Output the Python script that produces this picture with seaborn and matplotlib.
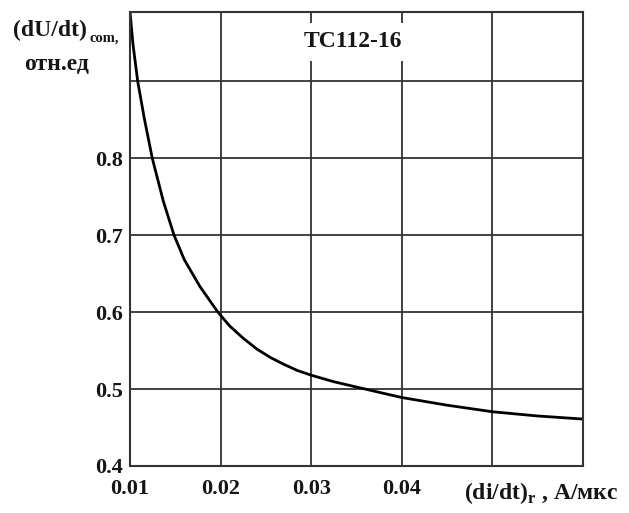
import numpy as np
import pandas as pd
import matplotlib
matplotlib.use("Agg")
import matplotlib.pyplot as plt
import seaborn as sns

# values
di_dt = [0.0100, 0.01033, 0.01085, 0.01158, 0.01246, 0.01368, 0.01486, 0.0160,
         0.01773, 0.0197, 0.0210, 0.0225, 0.0240, 0.0255, 0.0270, 0.0285,
         0.0300, 0.0325, 0.0380, 0.0400, 0.0450, 0.0500, 0.0550, 0.0600]
du_dt = [0.990, 0.948, 0.900, 0.8516, 0.800, 0.744, 0.700, 0.668,
         0.633, 0.600, 0.582, 0.566, 0.552, 0.541, 0.532, 0.524,
         0.518, 0.5095, 0.4944, 0.489, 0.479, 0.4705, 0.465, 0.461]

x_ticks = [0.01, 0.02, 0.03, 0.04, 0.05, 0.06]
x_labels = ["0.01", "0.02", "0.03", "0.04", "", ""]
y_ticks = [0.4, 0.5, 0.6, 0.7, 0.8, 0.9]
y_labels = ["0.4", "0.5", "0.6", "0.7", "0.8", ""]

df = pd.DataFrame({"di": di_dt, "du": du_dt})

sns.set_style("white")
plt.rcParams["font.family"] = ["Liberation Serif", "DejaVu Serif"]
plt.rcParams["mathtext.fontset"] = "custom"
plt.rcParams["mathtext.rm"] = "Liberation Serif:bold"

fig = plt.figure(figsize=(6.29, 5.13), dpi=100)
ax = fig.add_axes([130 / 629, 1 - 466 / 513, 453 / 629, 454 / 513])

sns.lineplot(data=df, x="di", y="du", ax=ax, color="black", linewidth=2.0)

ax.set_xlim(0.01, 0.06)
ax.set_ylim(0.4, 0.99)
ax.set_xticks(x_ticks)
ax.set_xticklabels(x_labels, fontweight="bold")
ax.set_yticks(y_ticks)
ax.set_yticklabels(y_labels, fontweight="bold")
ax.tick_params(length=0, labelsize=16, colors="#151515")
ax.tick_params(axis="x", pad=9)
ax.tick_params(axis="y", pad=5)
ax.set_xlabel("")
ax.set_ylabel("")
ax.grid(True, color="#333333", linewidth=1.3)
for s in ax.spines.values():
    s.set_color("#333333")
    s.set_linewidth(1.5)

ax.text(0.492, 0.934, "TC112-16", transform=ax.transAxes, ha="center", va="center",
        fontsize=17, fontweight="bold", color="#151515",
        bbox=dict(boxstyle="square,pad=0.35", facecolor="white", edgecolor="none"))

fig.text(13 / 629, 1 - 30 / 513, "(dU/dt)", ha="left", va="center",
         fontsize=17, fontweight="bold", color="#151515")
fig.text(90 / 629, 1 - 38 / 513, "com,", ha="left", va="center",
         fontsize=10.5, fontweight="bold", color="#151515")
fig.text(57 / 629, 1 - 65 / 513, "отн.ед", ha="center", va="center",
         fontsize=17, fontweight="bold", color="#151515")
fig.text(618 / 629, 1 - 493 / 513, r"(di/dt)$_{\mathrm{r}}$ , A/мкс", ha="right", va="center",
         fontsize=17, fontweight="bold", color="#151515")

fig.savefig("out.png", dpi=100)
